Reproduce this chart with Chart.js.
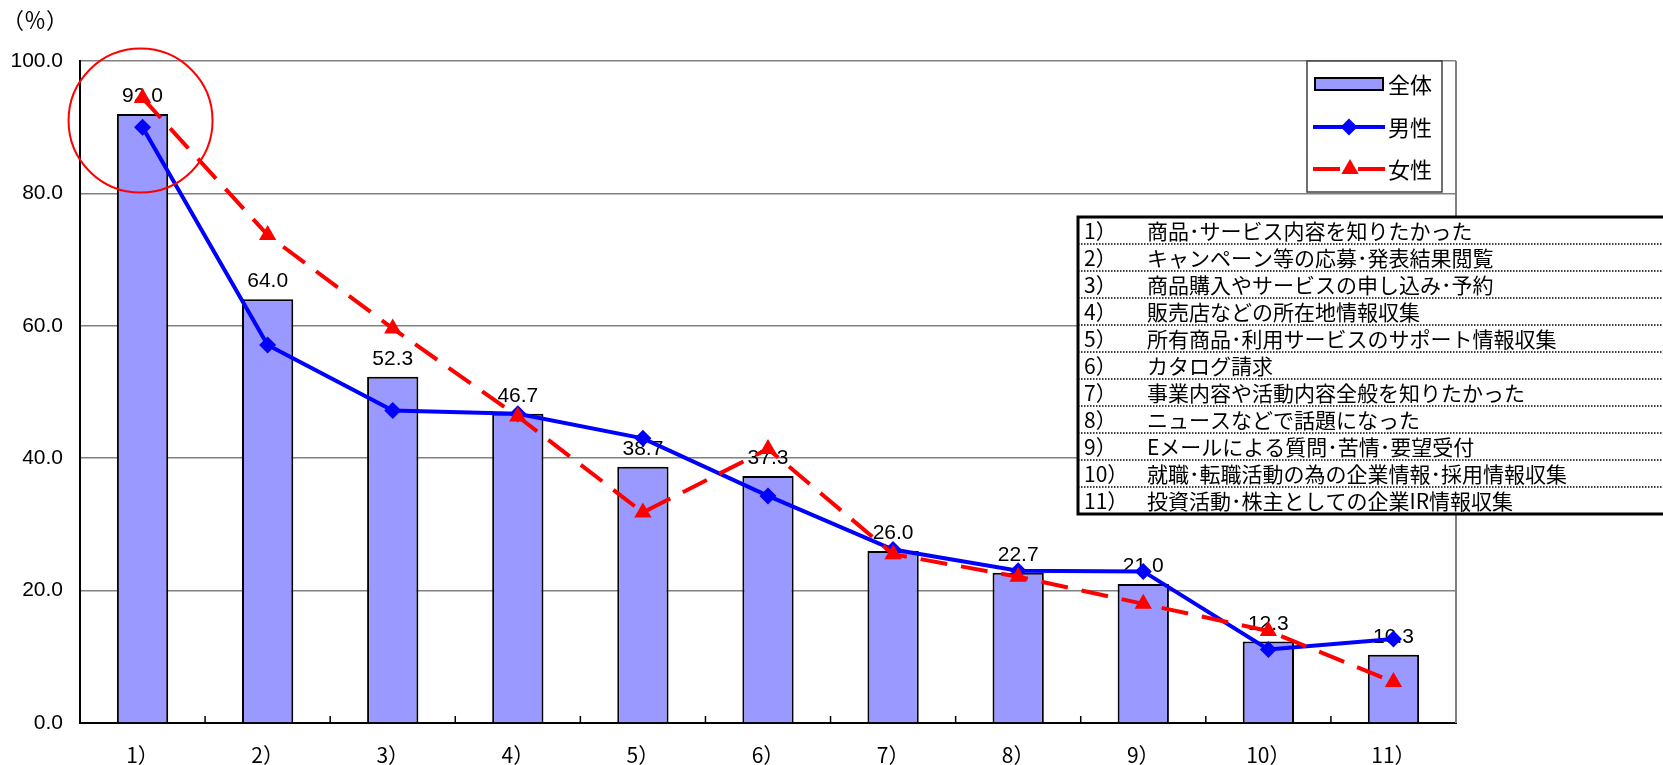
<!DOCTYPE html>
<html>
<head>
<meta charset="utf-8">
<script src="https://cdn.jsdelivr.net/npm/chart.js@4.4.0/dist/chart.umd.min.js"></script>
<style>
  html, body { margin: 0; padding: 0; background: #fff; overflow: hidden; }
  #wrap { position: relative; width: 1663px; height: 765px; }
</style>
</head>
<body>
<div id="wrap"><canvas id="mainChart" width="1663" height="765"></canvas></div>
<script>
const categories = ['1）', '2）', '3）', '4）', '5）', '6）', '7）', '8）', '9）', '10）', '11）'];
const seriesNames = ['全体', '男性', '女性'];
const totalValues = [92.0, 64.0, 52.3, 46.7, 38.7, 37.3, 26.0, 22.7, 21.0, 12.3, 10.3];
const maleValues = [90.0, 57.1, 47.2, 46.7, 43.0, 34.3, 26.2, 23.0, 22.9, 11.1, 12.7];
const femaleValues = [94.4, 73.7, 59.6, 46.3, 31.8, 41.4, 25.5, 22.1, 18.0, 13.9, 6.2];
const yMin = 0, yMax = 100, yStep = 20;
const yUnit = '（％）';
const noteItems = [
  '商品･サービス内容を知りたかった',
  'キャンペーン等の応募･発表結果閲覧',
  '商品購入やサービスの申し込み･予約',
  '販売店などの所在地情報収集',
  '所有商品･利用サービスのサポート情報収集',
  'カタログ請求',
  '事業内容や活動内容全般を知りたかった',
  'ニュースなどで話題になった',
  'Eメールによる質問･苦情･要望受付',
  '就職･転職活動の為の企業情報･採用情報収集',
  '投資活動･株主としての企業IR情報収集'
];
const circledIndex = 0, circledValue = 91;

const BAR_FILL = '#9999FF';
const BLUE = '#0000FF';
const RED = '#FF0000';
const NUM_FONT = '"Liberation Sans", Arial, sans-serif';
const JP_FONT = '"Noto Sans CJK JP", "Noto Sans", sans-serif';

function drawDiamond(ctx, x, y, r, color) {
  ctx.beginPath();
  ctx.moveTo(x, y - r); ctx.lineTo(x + r, y); ctx.lineTo(x, y + r); ctx.lineTo(x - r, y);
  ctx.closePath();
  ctx.fillStyle = color; ctx.fill();
}

function drawTriangle(ctx, x, y, r, color) {
  ctx.beginPath();
  ctx.moveTo(x, y - r);
  ctx.lineTo(x + r * 0.866, y + r / 2);
  ctx.lineTo(x - r * 0.866, y + r / 2);
  ctx.closePath();
  ctx.fillStyle = color; ctx.fill();
}

const overlay = {
  id: 'overlay',
  beforeDatasetsDraw(chart) {
    const { ctx, chartArea: a, scales: { x } } = chart;
    ctx.save();
    // right frame line
    ctx.strokeStyle = '#808080';
    ctx.lineWidth = 2;
    ctx.beginPath();
    ctx.moveTo(a.right, a.top); ctx.lineTo(a.right, a.bottom);
    ctx.stroke();
    // small inside ticks between categories
    ctx.strokeStyle = '#000';
    ctx.lineWidth = 1.5;
    ctx.beginPath();
    for (let i = 0; i < categories.length - 1; i++) {
      const px = (x.getPixelForValue(i) + x.getPixelForValue(i + 1)) / 2;
      ctx.moveTo(px, a.bottom); ctx.lineTo(px, a.bottom - 7);
    }
    ctx.stroke();
    ctx.restore();
  },
  afterDatasetDraw(chart, args) {
    if (args.index !== 0) return;
    const ctx = chart.ctx;
    ctx.save();
    ctx.font = '21px ' + NUM_FONT;
    ctx.fillStyle = '#000';
    ctx.textAlign = 'center';
    ctx.textBaseline = 'alphabetic';
    args.meta.data.forEach((bar, i) => {
      ctx.fillText(totalValues[i].toFixed(1), bar.x, bar.y - 12);
    });
    ctx.restore();
  },
  afterDraw(chart) {
    const { ctx, chartArea: a, scales: { x, y } } = chart;
    ctx.save();

    // unit label
    ctx.font = '22px ' + JP_FONT;
    ctx.fillStyle = '#000';
    ctx.textAlign = 'left';
    ctx.textBaseline = 'middle';
    ctx.fillText(yUnit, 2, 20);

    // legend
    const lx = 1307, ly = a.top, lw = 135, lh = 131;
    ctx.fillStyle = '#fff';
    ctx.fillRect(lx, ly, lw, lh);
    ctx.strokeStyle = '#404040';
    ctx.lineWidth = 1.5;
    ctx.strokeRect(lx, ly, lw, lh);
    const rows = [84, 127, 169];
    ctx.fillStyle = BAR_FILL;
    ctx.fillRect(1315, rows[0] - 6, 68, 12);
    ctx.strokeStyle = '#000'; ctx.lineWidth = 2;
    ctx.strokeRect(1315, rows[0] - 6, 68, 12);
    ctx.strokeStyle = BLUE; ctx.lineWidth = 4;
    ctx.beginPath(); ctx.moveTo(1313, rows[1]); ctx.lineTo(1385, rows[1]); ctx.stroke();
    drawDiamond(ctx, 1349, rows[1], 8.5, BLUE);
    ctx.strokeStyle = RED;
    ctx.beginPath();
    ctx.moveTo(1313, rows[2]); ctx.lineTo(1340, rows[2]);
    ctx.moveTo(1358, rows[2]); ctx.lineTo(1385, rows[2]);
    ctx.stroke();
    drawTriangle(ctx, 1350, rows[2], 10, RED);
    ctx.font = '22px ' + JP_FONT;
    ctx.fillStyle = '#000';
    ctx.textBaseline = 'middle';
    seriesNames.forEach((n, i) => ctx.fillText(n, 1388, rows[i] + 1));

    // note box
    const bx = 1078, by = 217, rowH = 27, bw = chart.width - bx + 5;
    ctx.fillStyle = '#fff';
    ctx.fillRect(bx, by, bw, rowH * noteItems.length);
    ctx.strokeStyle = '#000';
    ctx.lineWidth = 1.5;
    ctx.setLineDash([1.5, 1.5]);
    ctx.beginPath();
    for (let k = 1; k < noteItems.length; k++) {
      ctx.moveTo(bx, by + rowH * k); ctx.lineTo(chart.width, by + rowH * k);
    }
    ctx.stroke();
    ctx.setLineDash([]);
    ctx.lineWidth = 3;
    ctx.strokeRect(bx, by, bw, rowH * noteItems.length);
    ctx.font = '21px ' + JP_FONT;
    ctx.fillStyle = '#000';
    noteItems.forEach((t, k) => {
      const cy = by + rowH * (k + 0.5) + 1;
      ctx.fillText(categories[k], bx + 6, cy);
      ctx.fillText(t, bx + 69, cy);
    });

    // highlight circle
    ctx.strokeStyle = RED;
    ctx.lineWidth = 2;
    ctx.beginPath();
    ctx.arc(x.getPixelForValue(circledIndex) - 2, y.getPixelForValue(circledValue), 72, 0, Math.PI * 2);
    ctx.stroke();

    ctx.restore();
  }
};

const ctx = document.getElementById('mainChart').getContext('2d');
new Chart(ctx, {
  data: {
    labels: categories,
    datasets: [
      {
        type: 'bar',
        label: seriesNames[0],
        data: totalValues,
        backgroundColor: BAR_FILL,
        borderColor: '#000',
        borderWidth: 2,
        barPercentage: 0.41,
        categoryPercentage: 1.0,
        order: 3
      },
      {
        type: 'line',
        label: seriesNames[1],
        data: maleValues,
        borderColor: BLUE,
        backgroundColor: BLUE,
        borderWidth: 4,
        pointStyle: 'rectRot',
        pointRadius: 8.5,
        pointBorderWidth: 0,
        tension: 0,
        order: 2
      },
      {
        type: 'line',
        label: seriesNames[2],
        data: femaleValues,
        borderColor: RED,
        backgroundColor: RED,
        borderWidth: 4,
        borderDash: [27, 14],
        pointStyle: 'triangle',
        pointRadius: 10,
        pointBorderWidth: 0,
        tension: 0,
        order: 1
      }
    ]
  },
  options: {
    responsive: false,
    animation: false,
    devicePixelRatio: 1,
    layout: { padding: { top: 61, right: 207, bottom: 0, left: 0 } },
    plugins: { legend: { display: false }, tooltip: { enabled: false } },
    scales: {
      x: {
        offset: true,
        grid: { display: false, drawTicks: false },
        border: { display: true, color: '#000', width: 2 },
        ticks: { color: '#000', padding: 19, font: { size: 21, family: JP_FONT } },
        afterFit: s => { s.height = 42; }
      },
      y: {
        min: yMin,
        max: yMax,
        grid: { color: '#808080', lineWidth: 1.5, drawTicks: false },
        border: { display: true, color: '#000', width: 2 },
        ticks: {
          stepSize: yStep,
          color: '#000',
          padding: 17,
          font: { size: 21, family: NUM_FONT },
          callback: v => v.toFixed(1)
        },
        afterFit: s => { s.width = 80; }
      }
    }
  },
  plugins: [overlay]
});
</script>
</body>
</html>
